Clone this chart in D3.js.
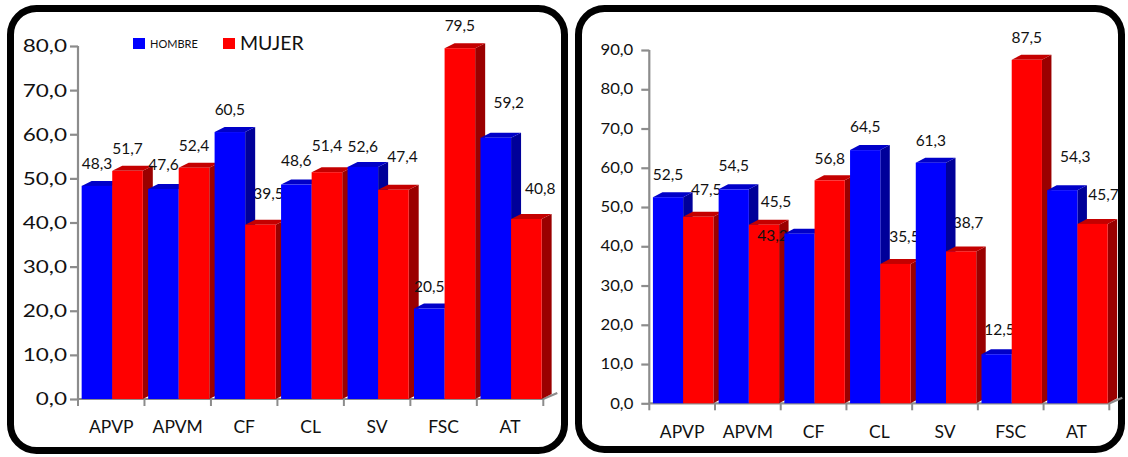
<!DOCTYPE html>
<html>
<head>
<meta charset="utf-8">
<script src="https://cdn.jsdelivr.net/npm/d3@7"></script>
<style>
  html, body { margin: 0; padding: 0; background: #fff; }
  svg { display: block; font-family: Lato, "Open Sans", sans-serif; }
</style>
</head>
<body>
<svg id="chart" width="1128" height="457"></svg>
<script>
// ---- data ----
const categories = ["APVP", "APVM", "CF", "CL", "SV", "FSC", "AT"];
const seriesNames = ["HOMBRE", "MUJER"];
const leftHombre  = [48.3, 47.6, 60.5, 48.6, 52.6, 20.5, 59.2];
const leftMujer   = [51.7, 52.4, 39.5, 51.4, 47.4, 79.5, 40.8];
const rightHombre = [52.5, 54.5, 43.2, 64.5, 61.3, 12.5, 54.3];
const rightMujer  = [47.5, 45.5, 56.8, 35.5, 38.7, 87.5, 45.7];
const leftTicks  = [0, 10, 20, 30, 40, 50, 60, 70, 80];
const rightTicks = [0, 10, 20, 30, 40, 50, 60, 70, 80, 90];

// ---- layout ----
// per-label [dx, dy] shifts for the value labels (HOMBRE, MUJER) of each category
const leftLabelShift = [
  [[0, 0], [0, 0]], [[0, -2], [0, 0]], [[0, 0], [8, -9]], [[0, -2], [0, -4]],
  [[0, 2], [9, -11]], [[0, 0], [0, 0]], [[13, -13], [14, -8]]
];
const rightLabelShift = [
  [[0, 0], [8, -5]], [[0, -1], [12, -1]], [[-27, 24], [0, 1]], [[0, -1], [9, -5]],
  [[0, 0], [7, -6]], [[3, -2], [0, 0]], [[13, -11], [11, -7]]
];

const palette = {
  HOMBRE: { front: "#0000ff", top: "#0000c8", side: "#000099" },
  MUJER:  { front: "#ff0000", top: "#c40000", side: "#9a0000" }
};
const fmt = v => d3.format(".1f")(v).replace(".", ",");

const svg = d3.select("#chart");

// rounded frames
svg.append("rect").attr("x", 10.5).attr("y", 8.5).attr("width", 554).attr("height", 442)
  .attr("rx", 26).attr("fill", "#fff").attr("stroke", "#000").attr("stroke-width", 7);
svg.append("rect").attr("x", 578.5).attr("y", 8.5).attr("width", 543).attr("height", 441)
  .attr("rx", 26).attr("fill", "#fff").attr("stroke", "#000").attr("stroke-width", 7);

function drawPanel(cfg) {
  const g = svg.append("g");
  const y = d3.scaleLinear().domain([0, cfg.max]).range([cfg.y0, cfg.y1]);
  const x = d3.scaleBand().domain(categories).range([cfg.x0, cfg.x1]).paddingInner(0).paddingOuter(0);
  const bw = x.bandwidth();
  const xs = d3.scaleBand().domain(seriesNames).range([bw * 0.055, bw * 0.975]).padding(0);
  const w = xs.bandwidth();
  const axisCol = "#8c8c8c";

  // y axis
  const yAxis = d3.axisLeft(y).tickValues(cfg.ticks).tickSize(8).tickFormat("");
  const ya = g.append("g").attr("transform", `translate(${cfg.x0},0)`).call(yAxis);
  ya.selectAll("path, line").attr("stroke", axisCol).attr("stroke-width", 2.2);
  ya.select(".domain").attr("d", `M0,${cfg.y1}V${cfg.y0}`);
  g.selectAll(".ytl").data(cfg.ticks).join("text")
    .attr("class", "ytl")
    .attr("transform", d => `translate(${cfg.x0 - cfg.tickGap},${y(d) + cfg.tickFont * 0.36}) scale(${cfg.tickStretch},1)`)
    .attr("text-anchor", "end").attr("font-size", cfg.tickFont).attr("fill", "#111")
    .text(fmt);

  // x axis (floor edge with depth)
  const boundaries = categories.map(c => x(c)).concat([cfg.x1]);
  g.append("path")
    .attr("d", `M${cfg.x0},${cfg.y0}H${cfg.x1}l${cfg.floorDx},${-cfg.floorDy}`)
    .attr("fill", "none").attr("stroke", axisCol).attr("stroke-width", 2.2);
  g.selectAll(".xt").data(boundaries).join("line")
    .attr("class", "xt")
    .attr("x1", d => d).attr("x2", d => d)
    .attr("y1", cfg.y0).attr("y2", cfg.y0 + 7)
    .attr("stroke", axisCol).attr("stroke-width", 2);
  g.selectAll(".xl").data(categories).join("text")
    .attr("class", "xl")
    .attr("x", d => x(d) + bw / 2).attr("y", cfg.catY)
    .attr("text-anchor", "middle").attr("font-size", 17.5).attr("fill", "#111")
    .text(d => d);

  const dx = cfg.dx, dy = cfg.dy, base = cfg.y0;

  // one group per category: its value labels first, then its 3D columns,
  // so later columns overlap earlier labels
  const catGroups = g.selectAll(".cat").data(categories.map((c, i) => ({
    c,
    items: seriesNames.map((s, j) => ({ c, s, v: (j === 0 ? cfg.hombre : cfg.mujer)[i], shift: cfg.shift[i][j] }))
  }))).join("g").attr("class", "cat");

  catGroups.selectAll(".vl").data(d => d.items).join("text")
    .attr("class", "vl")
    .attr("x", d => x(d.c) + xs(d.s) + w / 2 + d.shift[0])
    .attr("y", d => y(d.v) - 17 + d.shift[1])
    .attr("text-anchor", "middle").attr("font-size", 15.5).attr("fill", "#111")
    .text(d => fmt(d.v));

  const bars = catGroups.selectAll(".bar").data(d => d.items).join("g").attr("class", "bar");
  bars.append("polygon")
    .attr("points", d => {
      const x0 = x(d.c) + xs(d.s) + w, t = y(d.v);
      return [[x0, t], [x0 + dx, t - dy], [x0 + dx, base - dy], [x0, base]].join(" ");
    })
    .attr("fill", d => palette[d.s].side);
  bars.append("polygon")
    .attr("points", d => {
      const x0 = x(d.c) + xs(d.s), t = y(d.v);
      return [[x0, t], [x0 + w, t], [x0 + w + dx, t - dy], [x0 + dx, t - dy]].join(" ");
    })
    .attr("fill", d => palette[d.s].top);
  bars.append("rect")
    .attr("x", d => x(d.c) + xs(d.s)).attr("y", d => y(d.v))
    .attr("width", w).attr("height", d => base - y(d.v))
    .attr("fill", d => palette[d.s].front);
}

drawPanel({
  hombre: leftHombre, mujer: leftMujer, ticks: leftTicks, max: 80, shift: leftLabelShift,
  x0: 78, x1: 543.3, y0: 399, y1: 46, dx: 10, dy: 5, floorDx: 14, floorDy: 6,
  tickFont: 18, tickStretch: 1.25, tickGap: 11, catY: 433
});
drawPanel({
  hombre: rightHombre, mujer: rightMujer, ticks: rightTicks, max: 90, shift: rightLabelShift,
  x0: 649.3, x1: 1109.3, y0: 403.3, y1: 50, dx: 9.5, dy: 5, floorDx: 13, floorDy: 5.5,
  tickFont: 14.5, tickStretch: 1.15, tickGap: 16, catY: 438
});

// legend
const legend = svg.append("g");
legend.append("rect").attr("x", 133).attr("y", 38).attr("width", 12).attr("height", 11).attr("fill", palette.HOMBRE.front);
legend.append("text").attr("x", 150).attr("y", 48).attr("font-size", 11).attr("fill", "#111").text(seriesNames[0]);
legend.append("rect").attr("x", 223).attr("y", 38).attr("width", 12).attr("height", 11).attr("fill", palette.MUJER.front);
legend.append("text").attr("x", 240).attr("y", 50).attr("font-size", 19.5).attr("fill", "#111").text(seriesNames[1]);
</script>
</body>
</html>
